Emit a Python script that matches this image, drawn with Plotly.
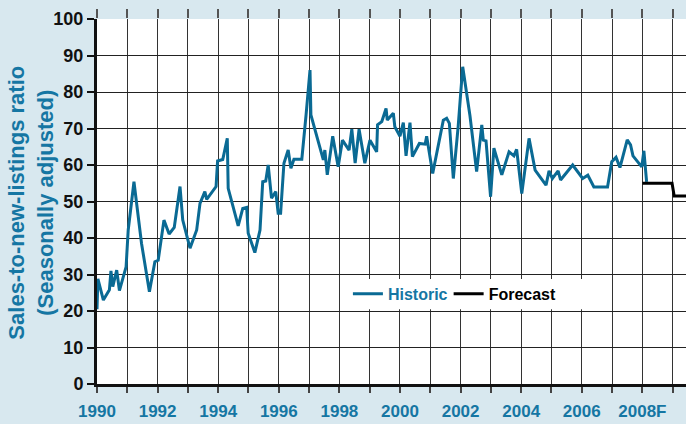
import plotly.graph_objects as go

# ---- data ----
hist_year = [1990.00, 1990.03, 1990.21, 1990.41, 1990.46, 1990.52, 1990.65, 1990.74, 1990.96,
             1991.03, 1991.22, 1991.47, 1991.73, 1991.91, 1992.02, 1992.21, 1992.38, 1992.55,
             1992.74, 1992.83, 1993.07, 1993.29, 1993.40, 1993.56, 1993.62, 1993.93, 1993.98,
             1994.15, 1994.30, 1994.33, 1994.66, 1994.81, 1994.94, 1994.99, 1995.21, 1995.38,
             1995.47, 1995.57, 1995.65, 1995.76, 1995.90, 1995.98, 1996.06, 1996.17, 1996.31,
             1996.40, 1996.50, 1996.76, 1996.90, 1997.03, 1997.06, 1997.47, 1997.52, 1997.60,
             1997.78, 1997.96, 1998.10, 1998.32, 1998.41, 1998.52, 1998.65, 1998.84, 1999.01,
             1999.23, 1999.26, 1999.40, 1999.54, 1999.58, 1999.78, 1999.83, 2000.00, 2000.11,
             2000.20, 2000.33, 2000.41, 2000.64, 2000.83, 2000.88, 2001.08, 2001.43, 2001.54,
             2001.63, 2001.76, 2001.92, 2002.07, 2002.31, 2002.53, 2002.70, 2002.75, 2002.84,
             2002.99, 2003.10, 2003.36, 2003.60, 2003.76, 2003.85, 2004.02, 2004.26, 2004.46,
             2004.82, 2004.92, 2005.03, 2005.22, 2005.30, 2005.70, 2006.03, 2006.20, 2006.40,
             2006.85, 2006.99, 2007.13, 2007.26, 2007.50, 2007.61, 2007.69, 2007.98, 2008.05,
             2008.14]
hist_value = [20.5, 28.8, 23.0, 25.8, 31.0, 26.7, 31.2, 25.6, 32.1,
              42.2, 55.4, 38.5, 25.3, 33.5, 33.9, 44.9, 41.1, 42.9,
              54.1, 44.9, 37.2, 42.2, 49.5, 52.7, 50.6, 54.1, 61.1,
              61.5, 67.3, 53.6, 43.3, 48.1, 48.4, 41.3, 36.0, 42.2,
              55.4, 55.6, 60.0, 50.9, 52.7, 46.8, 46.8, 60.5, 64.1,
              59.1, 61.6, 61.6, 73.7, 86.0, 73.7, 61.4, 64.1, 57.3,
              67.9, 59.5, 66.8, 64.1, 69.8, 60.5, 69.8, 60.5, 66.8,
              63.6, 71.0, 71.9, 75.5, 72.3, 74.2, 70.5, 67.9, 71.6,
              62.5, 71.6, 62.3, 65.9, 65.7, 67.9, 57.7, 72.3, 72.8,
              71.4, 56.3, 70.5, 86.9, 73.5, 58.2, 71.0, 66.8, 66.6,
              51.3, 64.6, 57.3, 63.6, 62.5, 64.3, 52.2, 67.3, 58.6,
              54.5, 58.4, 56.3, 58.4, 55.9, 60.0, 56.3, 57.2, 54.0,
              54.0, 60.9, 62.1, 59.3, 66.9, 65.5, 62.5, 59.5, 63.9,
              55.4]

fc_year = [2008.0, 2008.98, 2009.05, 2009.5]
fc_value = [55.0, 55.0, 51.5, 51.5]

tick_years = list(range(1990, 2010))
tick_labels = [("2008F" if y == 2008 else str(y)) if y % 2 == 0 else "" for y in tick_years]

X_RANGE = [1990, 2009.44]
BLUE_LINE = "#0a6a94"
BLUE_TEXT = "#1576a3"
BG = "#d8e8ef"
FONT = "Liberation Sans, Arial, sans-serif"

fig = go.Figure()
fig.add_trace(go.Scatter(
    x=hist_year, y=hist_value, mode="lines",
    line=dict(color=BLUE_LINE, width=3),
    name=f"<span style='color:{BLUE_TEXT}'>Historic</span>",
    legend="legend",
))
fig.add_trace(go.Scatter(
    x=fc_year, y=fc_value, mode="lines",
    line=dict(color="#000000", width=3),
    name="Forecast",
    legend="legend2",
))
# invisible trace on top axis to carry top ticks
fig.add_trace(go.Scatter(x=X_RANGE, y=[None, None], xaxis="x2",
                         showlegend=False, hoverinfo="skip"))

legend_common = dict(
    orientation="h", xanchor="left", y=0.247, yanchor="middle",
    bgcolor="rgba(0,0,0,0)", borderwidth=0, itemwidth=30,
    font=dict(family=FONT, size=16, color="#000000", weight="bold"),
)

fig.update_layout(
    width=686, height=424,
    margin=dict(l=97, r=0, t=19, b=40, autoexpand=False),
    paper_bgcolor=BG, plot_bgcolor="#ffffff",
    font=dict(family=FONT, size=18, color="#111111", weight="bold"),
    xaxis=dict(
        range=X_RANGE, tickmode="array", tickvals=tick_years, ticktext=tick_labels,
        showgrid=True, gridcolor="#333333", gridwidth=1,
        showline=True, linecolor="#111111", linewidth=3,
        ticks="outside", ticklen=6, tickwidth=1.5, tickcolor="#444444",
        ticklabelstandoff=4,
        tickfont=dict(family=FONT, size=17, color=BLUE_TEXT, weight="bold"),
        zeroline=False, automargin=False,
    ),
    xaxis2=dict(
        overlaying="x", side="top", range=X_RANGE, tickmode="array",
        tickvals=tick_years, showticklabels=False, showgrid=False,
        ticks="outside", ticklen=9, tickwidth=1.5, tickcolor="#555555", showline=False,
        automargin=False,
    ),
    yaxis=dict(
        range=[0, 100], dtick=10, tick0=0,
        showgrid=True, gridcolor="#222222", gridwidth=1,
        showline=True, linecolor="#111111", linewidth=3,
        ticks="outside", ticklen=7, tickwidth=2, tickcolor="#111111",
        tickfont=dict(family=FONT, size=18, color="#111111", weight="bold"),
        zeroline=False, automargin=False,
    ),
    legend=dict(x=0.426, **legend_common),
    legend2=dict(x=0.597, **legend_common),
    showlegend=True,
    shapes=[dict(type="rect", xref="paper", yref="paper",
                 x0=0.421, x1=0.837, y0=0.205, y1=0.288,
                 fillcolor="#ffffff", line=dict(width=0), layer="above")],
    annotations=[dict(
        text="Sales-to-new-listings ratio<br>(Seasonally adjusted)",
        xref="paper", yref="paper", x=-0.112, y=0.497,
        xanchor="center", yanchor="middle", textangle=-90, showarrow=False,
        font=dict(family=FONT, size=22, color=BLUE_TEXT, weight="bold"),
    )],
)

fig.write_html(
    "out.html",
    config={"displayModeBar": False},
    post_script=f"document.body.style.margin='0';document.body.style.background='{BG}';",
)
